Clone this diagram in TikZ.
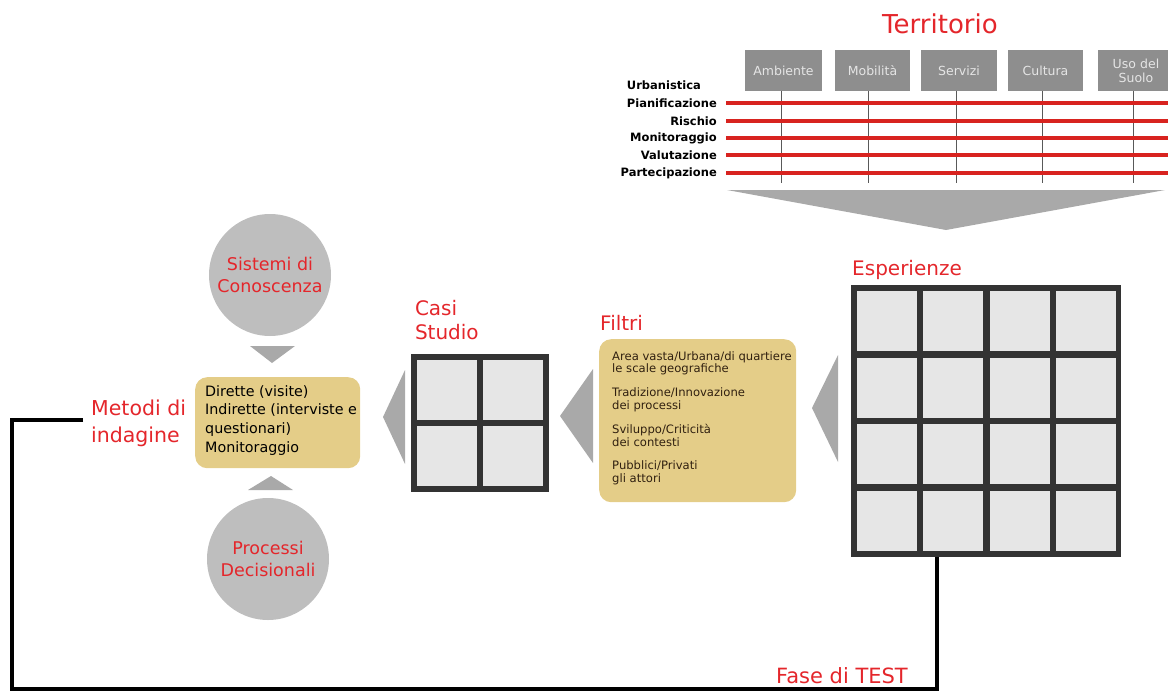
\documentclass[tikz,border=0pt]{standalone}
\usepackage{fontspec}
\setmainfont{DejaVu Sans}
\usetikzlibrary{positioning,shapes.geometric}

\definecolor{terrared}{HTML}{E4262B}
\definecolor{linered}{HTML}{D8231F}
\definecolor{headgray}{HTML}{8E8E8E}
\definecolor{circgray}{HTML}{BEBEBE}
\definecolor{trigray}{HTML}{A9A9A9}
\definecolor{tanfill}{HTML}{E4CD88}
\definecolor{cellgray}{HTML}{E6E6E6}
\definecolor{framegray}{HTML}{333333}

\begin{document}
\begin{tikzpicture}[
  x=1pt, y=-1pt,
  title/.style={text=terrared, font=\fontsize{20}{24}\selectfont, align=left, inner sep=0pt},
  header/.style={fill=headgray, text=white!90!black, minimum height=41pt, align=left, inner sep=2pt,
    font=\fontsize{12.5}{14}\selectfont},
  rowlabel/.style={font=\fontsize{11.5}{13}\selectfont\bfseries, anchor=east, inner sep=0pt},
  redline/.style={draw=linered, line width=4pt},
  vline/.style={draw=black!65, line width=0.8pt},
  tanbox/.style={fill=tanfill, rounded corners=12pt, align=left, anchor=north west},
  bigcircle/.style={circle, fill=circgray, minimum size=122pt, inner sep=0pt, text=terrared,
    align=center, font=\fontsize{17.5}{22}\selectfont},
  gridframe/.style={fill=framegray, inner sep=0pt},
  cell/.style={fill=cellgray},
  pointer/.style={fill=trigray},
  testline/.style={draw=black, line width=4pt}
]
\useasboundingbox (0,0) rectangle (1168,691);

% Territorio
\node[title, font=\fontsize{26}{30}\selectfont] (terr) at (940,24) {Territorio};
\foreach \i/\x/\w/\t in {1/783.5/77/Ambiente, 2/872.5/75/Mobilità, 3/959/76/Servizi,
                         4/1045.5/75/Cultura, 5/1136/76/{Uso del\\Suolo}} {
  \node[header, minimum width=\w pt, text width=\w pt-4pt, align=center] (h\i) at (\x,70.5) {\t};
}
\foreach \i/\x in {1/781, 2/868, 3/956, 4/1042, 5/1133} {
  \draw[vline] (\x,91) -- (\x,183);
}
\foreach \lab/\yy in {Pianificazione/103, Rischio/121, Monitoraggio/138, Valutazione/155, Partecipazione/173} {
  \node[rowlabel] (r\yy) at (717,\yy) {\lab};
  \draw[redline] (726,\yy) -- (1168,\yy);
}
\node[rowlabel, anchor=west] (urb) at (r103.west |- 0,85) {Urbanistica};
\fill[pointer] (727,190) -- (1165,190) -- (946,230) -- cycle;

% Esperienze
\node[gridframe, minimum width=270pt, minimum height=272pt] (esp) at (986,421) {};
\foreach \i in {0,...,3} {
  \foreach \j in {0,...,3} {
    \fill[cell] (857+\i*66.25,291+\j*66.5) rectangle ++(60,60);
  }
}
\node[title, anchor=base west] (esptit) at (852,275) {Esperienze};
\fill[pointer] (838,355) -- (838,462) -- (812,408) -- cycle;

% Filtri
\node[tanbox, minimum width=197pt, minimum height=163pt, inner sep=0pt] (filtri) at (599,339) {};
\node[anchor=north west, align=left, inner sep=0pt, text=black!75!brown,
  font=\fontsize{11.6}{12.8}\selectfont] (filtxt) at (612,351)
  {Area vasta/Urbana/di quartiere\\le scale geografiche\\[11pt]
   Tradizione/Innovazione\\dei processi\\[11pt]
   Sviluppo/Criticità\\dei contesti\\[11pt]
   Pubblici/Privati\\gli attori};
\node[title, anchor=base west] (filtit) at (600,330) {Filtri};
\fill[pointer] (593,369) -- (593,463) -- (560,416) -- cycle;

% Casi studio
\node[gridframe, minimum size=138pt] (casi) at (480,423) {};
\foreach \i in {0,1} {
  \foreach \j in {0,1} {
    \fill[cell] (417+\i*66,360+\j*66) rectangle ++(60,60);
  }
}
\node[title, anchor=south west] (casitit) at ([xshift=4pt,yshift=14pt]casi.north west) {Casi\\Studio};
\fill[pointer] (405,370) -- (405,464) -- (383,417) -- cycle;

% Metodi di indagine
\node[tanbox, minimum width=165pt, minimum height=91pt, inner sep=0pt] (metbox) at (195,377) {};
\node[anchor=north west, align=left, inner sep=0pt, font=\fontsize{14.3}{18.7}\selectfont] (mettxt) at (205,385)
  {Dirette (visite)\\Indirette (interviste e\\questionari)\\Monitoraggio};
\node[title, anchor=west, font=\fontsize{20.5}{27}\selectfont] (metodi) at (91,423) {Metodi di\\indagine};

\node[bigcircle] (sistemi) at (270,275) {Sistemi di\\Conoscenza};
\fill[pointer] (250,346) -- (295,346) -- (272,363) -- cycle;
\node[bigcircle] (processi) at (268,559) {Processi\\Decisionali};
\fill[pointer] (248,490) -- (293,490) -- (271,476) -- cycle;

% Fase di TEST
\draw[testline] (83,420) -| (12,688.5) -| ([xshift=-49pt]esp.south);
\node[title, anchor=base, font=\fontsize{21}{24}\selectfont] (test) at (842,683) {Fase di TEST};
\end{tikzpicture}
\end{document}
